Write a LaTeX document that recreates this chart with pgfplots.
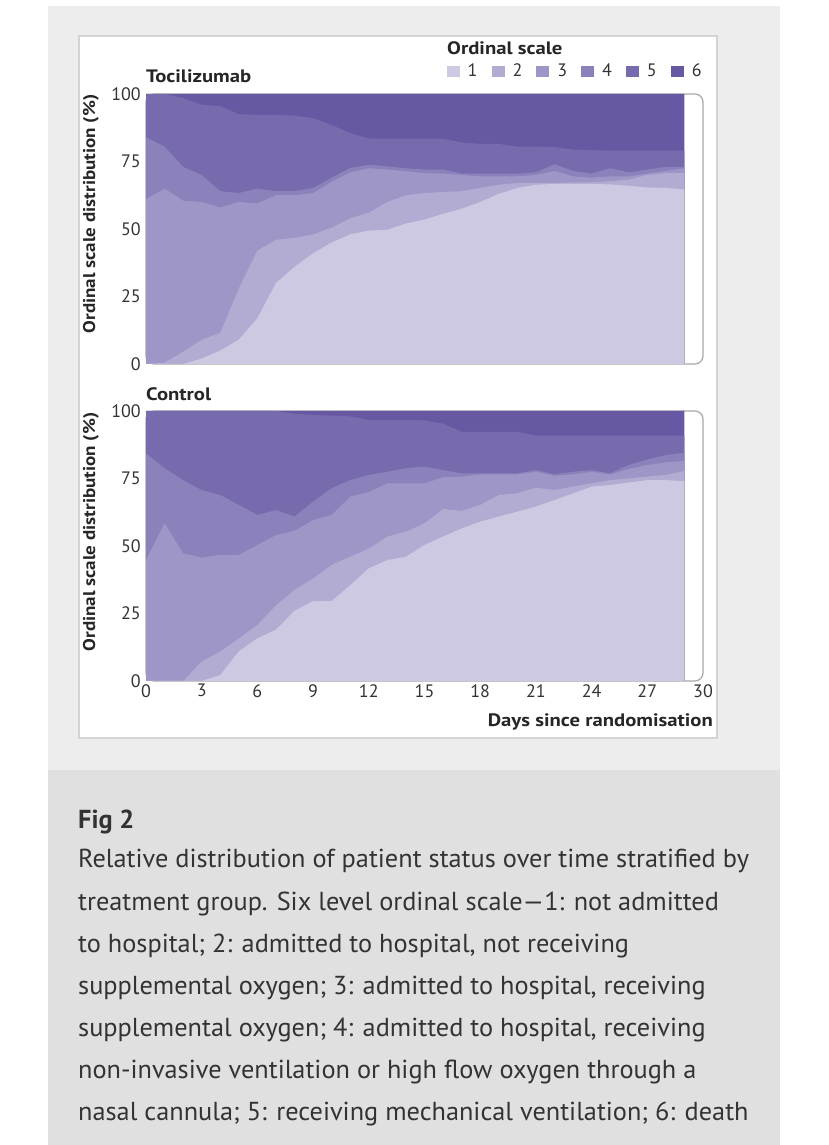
\documentclass[border=0pt]{standalone}
\usepackage{fontspec}
\setmainfont{PT Sans}
\newfontfamily\capfont[FakeStretch=1.012]{PT Sans}
\newfontfamily\chartbf[FakeStretch=1.15]{PT Sans Bold}
\newfontfamily\ylabfont[FakeStretch=1.12]{PT Sans Bold}
\usepackage{pgfplots}
\usepackage{pgfplotstable}
\pgfplotsset{compat=1.18}

\definecolor{cA}{HTML}{CDC9E2}
\definecolor{cB}{HTML}{B2ACD3}
\definecolor{cC}{HTML}{9E96C6}
\definecolor{cD}{HTML}{8B81BB}
\definecolor{cE}{HTML}{776BAE}
\definecolor{cF}{HTML}{6858A3}
\definecolor{greybg}{HTML}{EDEDED}
\definecolor{capbg}{HTML}{E0E0E0}
\definecolor{panelborder}{HTML}{D4D4D4}
\definecolor{roundborder}{HTML}{A8A8A8}
\definecolor{txt}{HTML}{333333}

% cumulative tops of categories 1..6 (percent), Tocilizumab
\pgfplotstableread{
d  c1   c2   c3   c4   c5   c6
0  0    0    61   84   100  100
1  0    0.5  65   80.5 100  100
2  0    4.5  60.5 73   98.5 100
3  2    9    60   70   96   100
4  5    11.5 58   64   95.5 100
5  9    28   60   63.3 92.5 100
6  17   42   59.5 65   92.3 100
7  30   46   62.5 64   92.3 100
8  36   46.7 62.5 64   92   100
9  41   48   63.3 65.2 91   100
10 45   50.5 67.5 69   88.5 100
11 48   54   71   72.6 85.5 100
12 49.4 56   72.5 73.8 83.5 100
13 49.7 60   72   73.2 83.5 100
14 52   62.5 71.4 72.5 83.5 100
15 53.5 63.3 70.7 72   83.5 100
16 55.6 63.7 70.5 72   83.5 100
17 57.5 64   70   70.5 82   100
18 60   65.2 69.5 70.5 81.5 100
19 63   66.4 69.5 70.5 81.5 100
20 65.2 67   69.5 70.5 80.5 100
21 66.4 67   70   71   80.5 100
22 66.7 67   71.5 74   80.3 100
23 66.7 67.3 69.5 71.5 79.4 100
24 66.7 67.3 69   70.5 79.2 100
25 66.5 67.7 69.5 72.5 79   100
26 66   68.3 69.5 71   79   100
27 65.4 70   70.5 72   79   100
28 65.2 70.7 71.5 73   79   100
29 64.6 70.7 72.5 73   79   100
}\toci

% Control
\pgfplotstableread{
d  c1   c2   c3   c4   c5   c6
0  0    0    44.8 84.3 100  100
1  0    0    58.4 78.8 100  100
2  0    0    47.3 74.4 100  100
3  0    7.2  45.7 70.7 100  100
4  2.2  10.9 46.7 68.9 100  100
5  11   15.8 46.7 65.2 100  100
6  15.8 20.7 50.4 61.5 100  100
7  19   28   54   63.3 100  100
8  26   33.7 55.6 60.9 99   100
9  29.6 38   59.6 66.4 98.5 100
10 29.6 43   61.5 71.4 98.3 100
11 35.5 46   68.3 74.4 98   100
12 41.7 49   70   76.3 96.7 100
13 44.8 53.5 73.2 77.5 96.7 100
14 46   55.3 73.2 78.8 96.7 100
15 50.4 58.4 73.2 79.4 96.5 100
16 53.5 63.7 75.5 78.1 95.3 100
17 56.5 63   75.7 76.9 92.3 100
18 59   65.2 76.5 76.9 92.3 100
19 60.9 68.9 76.5 76.9 92.3 100
20 62.7 69.5 76.5 76.9 92.3 100
21 64.6 71.6 77.5 78.1 90.9 100
22 67   70.7 76   76.5 90.9 100
23 69.5 72   76.5 77.5 90.9 100
24 72   73.2 77.5 78.1 90.9 100
25 72.6 74.4 76.5 76.9 90.9 100
26 73.5 75   78.5 80   90.9 100
27 74.4 75.7 80   82   90.9 100
28 74.4 76.3 81   83.7 90.9 100
29 74   77.8 81.5 84.5 90.9 100
}\ctrl

\pgfplotsset{
  ordstyle/.style={
    scale only axis, width=557pt, height=270pt,
    xmin=0, xmax=30, ymin=0, ymax=100,
    axis line style={draw=none}, tick style={draw=none},
    ytick={0,25,50,75,100}, xtick={0,3,...,30},
    /pgf/number format/assume math mode=true,
    tick label style={font=\fontsize{18}{18}\selectfont, text=txt},
    yticklabel style={anchor=east, inner sep=0pt, xshift=-5pt},
    xticklabel style={anchor=north, inner sep=0pt, yshift=-3pt},
    axis background/.style={draw=roundborder, line width=1.2pt, rounded corners=8pt},
  },
  lay/.style={draw=none, fill=#1, forget plot},
}

\begin{document}
\begin{tikzpicture}[x=1pt,y=1pt]
% page, panels
\fill[white] (0,0) rectangle (828,1145);
\fill[greybg] (48,375) rectangle (780,1139);
\fill[capbg] (48,0) rectangle (780,375);
\filldraw[fill=white, draw=panelborder, line width=1.5pt] (79,407) rectangle (717,1109);

% Tocilizumab
\begin{axis}[ordstyle, at={(146pt,781pt)}, anchor=south west,
  xticklabels={},
  legend columns=6,
  legend style={at={(0.5395,1.085)}, anchor=west, draw=none, fill=none,
    inner sep=0pt, font=\fontsize{18}{18}\selectfont, text=txt,
    /tikz/every odd column/.append style={column sep=6pt},
    /tikz/every even column/.append style={column sep=12pt}},
  legend image code/.code={\fill[#1] (0pt,-5.5pt) rectangle (13pt,5.5pt);},
]
\addlegendimage{fill=cA, draw=none}\addlegendentry{1}
\addlegendimage{fill=cB, draw=none}\addlegendentry{2}
\addlegendimage{fill=cC, draw=none}\addlegendentry{3}
\addlegendimage{fill=cD, draw=none}\addlegendentry{4}
\addlegendimage{fill=cE, draw=none}\addlegendentry{5}
\addlegendimage{fill=cF, draw=none}\addlegendentry{6}
\addplot[lay=cF] table[x=d,y=c6]{\toci} \closedcycle;
\addplot[lay=cE] table[x=d,y=c5]{\toci} \closedcycle;
\addplot[lay=cD] table[x=d,y=c4]{\toci} \closedcycle;
\addplot[lay=cC] table[x=d,y=c3]{\toci} \closedcycle;
\addplot[lay=cB] table[x=d,y=c2]{\toci} \closedcycle;
\addplot[lay=cA] table[x=d,y=c1]{\toci} \closedcycle;
\end{axis}

% Control
\begin{axis}[ordstyle, at={(146pt,464pt)}, anchor=south west]
\addplot[lay=cF] table[x=d,y=c6]{\ctrl} \closedcycle;
\addplot[lay=cE] table[x=d,y=c5]{\ctrl} \closedcycle;
\addplot[lay=cD] table[x=d,y=c4]{\ctrl} \closedcycle;
\addplot[lay=cC] table[x=d,y=c3]{\ctrl} \closedcycle;
\addplot[lay=cB] table[x=d,y=c2]{\ctrl} \closedcycle;
\addplot[lay=cA] table[x=d,y=c1]{\ctrl} \closedcycle;
\end{axis}

% chart texts
\node[anchor=base west, inner sep=0pt, text=black!85] at (146,1062)
  {\chartbf\fontsize{18}{18}\selectfont Tocilizumab};
\node[anchor=base west, inner sep=0pt, text=black!85] at (146,744)
  {\chartbf\fontsize{18}{18}\selectfont Control};
\node[anchor=base west, inner sep=0pt, text=black!85] at (447,1090)
  {\chartbf\fontsize{18}{18}\selectfont Ordinal scale};
\node[rotate=90, inner sep=0pt, text=black!85] at (91,931)
  {\ylabfont\fontsize{17}{17}\selectfont Ordinal scale distribution (\%)};
\node[rotate=90, inner sep=0pt, text=black!85] at (91,613)
  {\ylabfont\fontsize{17}{17}\selectfont Ordinal scale distribution (\%)};
\node[anchor=base east, inner sep=0pt, text=black!85] at (713,418)
  {\chartbf\fontsize{18}{18}\selectfont Days since randomisation};

% caption
\node[anchor=base west, inner sep=0pt, text=txt] at (78,316)
  {\capfont\fontsize{26}{26}\selectfont\bfseries Fig 2};
\begin{scope}[every node/.style={anchor=base west, inner sep=0pt, text=txt,
    font=\capfont\fontsize{26}{26}\selectfont}]
\node at (78,277) {Relative distribution of patient status over time stratified by};
\node at (78,234) {treatment group. Six level ordinal scale—1: not admitted};
\node at (78,192) {to hospital; 2: admitted to hospital, not receiving};
\node at (78,150) {supplemental oxygen; 3: admitted to hospital, receiving};
\node at (78,108) {supplemental oxygen; 4: admitted to hospital, receiving};
\node at (78,66) {non-invasive ventilation or high flow oxygen through a};
\node at (78,24) {nasal cannula; 5: receiving mechanical ventilation; 6: death};
\end{scope}
\end{tikzpicture}
\end{document}
